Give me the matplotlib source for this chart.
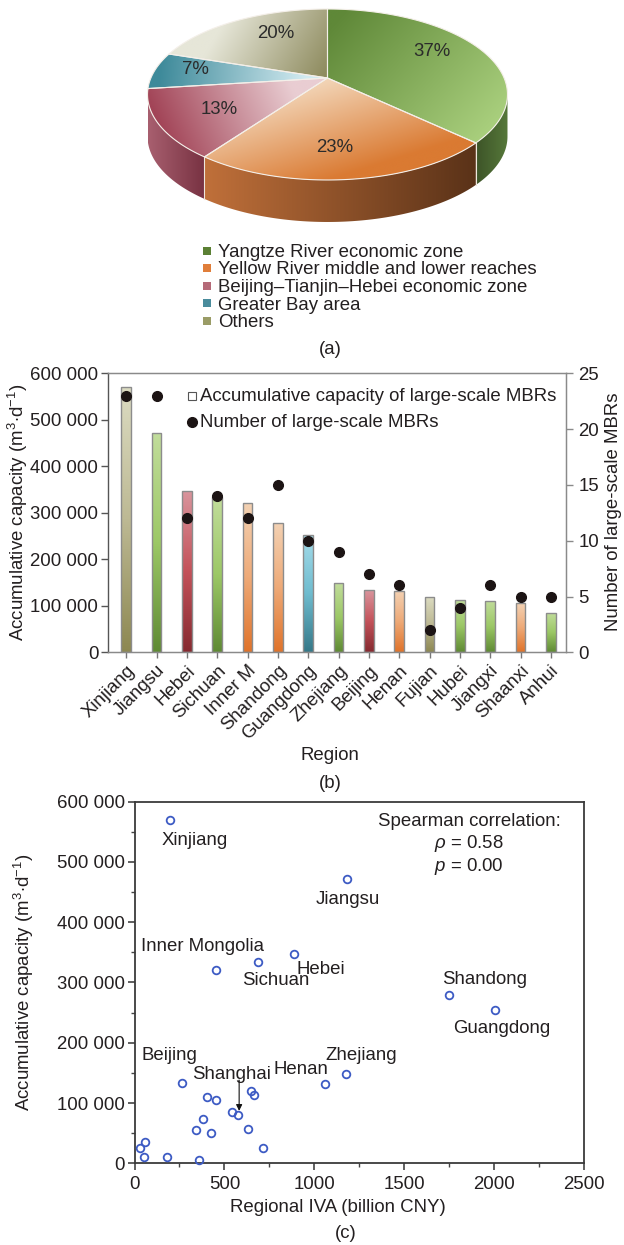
import numpy as np
import matplotlib
matplotlib.use("Agg")
import matplotlib.pyplot as plt
from matplotlib.patches import Polygon, Rectangle
from matplotlib.colors import to_rgb
from matplotlib.ticker import FuncFormatter, MultipleLocator

FS = 13.4
plt.rcParams['font.family'] = ['Liberation Sans', 'DejaVu Sans']
plt.rcParams['mathtext.fontset'] = 'custom'
plt.rcParams['mathtext.rm'] = 'Liberation Sans'
plt.rcParams['mathtext.it'] = 'Liberation Sans:italic'
plt.rcParams['mathtext.bf'] = 'Liberation Sans:bold'
plt.rcParams['font.size'] = FS
TXT = '#231f20'
plt.rcParams['text.color'] = TXT
plt.rcParams['axes.labelcolor'] = TXT
plt.rcParams['xtick.color'] = TXT
plt.rcParams['ytick.color'] = TXT

# ---------------- data ----------------
zones = ["Yangtze River economic zone",
         "Yellow River middle and lower reaches",
         "Beijing\u2013Tianjin\u2013Hebei economic zone",
         "Greater Bay area",
         "Others"]
zone_share = [37, 23, 13, 7, 20]

regions = ["Xinjiang", "Jiangsu", "Hebei", "Sichuan", "Inner M", "Shandong",
           "Guangdong", "Zhejiang", "Beijing", "Henan", "Fujian", "Hubei",
           "Jiangxi", "Shaanxi", "Anhui"]
region_zone = [4, 0, 2, 0, 1, 1, 3, 0, 2, 1, 4, 0, 0, 1, 0]
capacity = [570000, 472000, 347000, 335000, 321000, 278000, 253000, 148000,
            133000, 132000, 120000, 113000, 110000, 105000, 85000]
mbr_count = [23, 23, 12, 14, 12, 15, 10, 9, 7, 6, 2, 4, 6, 5, 5]

iva = [199, 1184, 456, 688, 889, 1748, 2005, 262, 1062, 1178,
       406, 454, 646, 666, 545, 577, 383, 340, 426, 629,
       714, 61, 32, 54, 180, 361]
cap_all = [568500, 471500, 321000, 334500, 347000, 278500, 253500, 132600, 132000, 148600,
           110000, 105000, 120400, 112700, 85000, 80700, 73500, 54700, 49700, 56900,
           24900, 35900, 26000, 10500, 10000, 5000]
point_names = ["Xinjiang", "Jiangsu", "Inner Mongolia", "Sichuan", "Hebei", "Shandong",
               "Guangdong", "Beijing", "Henan", "Zhejiang"]
spearman_rho = 0.58
spearman_p = 0.00

# ---------------- styles ----------------
legend_colors = ['#5b8034', '#e07e3a', '#b56a78', '#4a8c9c', '#9a9c66']
top_grad = [((340, 15), (480, 140), '#5f8838', '#a9cf7d'),
            ((300, 85), (330, 180), '#f3d7ba', '#da7a32'),
            ((295, 95), (170, 150), '#e9cdd2', '#a24457'),
            ((305, 78), (160, 68), '#d2eaf0', '#3e8a9a'),
            ((225, 20), (325, 78), '#e6e6d8', '#8d8a5d')]
wall_grad = [('#56783a', '#3d5428'), ('#5a3218', '#c0703a'), ('#783242', '#a85f6f'),
             ('#3e7a88', '#3e7a88'), ('#8d8a5d', '#8d8a5d')]
bar_grad = [('#c2dd9c', '#9cc866', '#5f8a34'),
            ('#f3d2b4', '#eeaa78', '#e0732a'),
            ('#d9959d', '#c4525a', '#862a30'),
            ('#a6dcea', '#6fbccf', '#357888'),
            ('#dcdcc2', '#bdb994', '#8d8852')]
pct_pos = [(432, 52), (335, 147), (219, 110), (195, 70), (276, 33)]
label_pos = {"Xinjiang": (333, 535400), "Jiangsu": (1187, 438300),
             "Inner Mongolia": (378, 360200), "Sichuan": (783, 303300),
             "Hebei": (1039, 321000), "Shandong": (1946, 305300),
             "Guangdong": (2043, 224300), "Beijing": (196, 179600),
             "Henan": (926, 156000), "Zhejiang": (1263, 179600)}

W, H = 624, 1245
fig = plt.figure(figsize=(W / 100, H / 100), dpi=100)
bg = fig.add_axes([0, 0, 1, 1], zorder=0)
bg.set_axis_off()

def fy(y):
    return 1 - y / H

# ---------------- (a) 3D pie ----------------
CX, CY, A, B, P, DEPTH = 327.5, 78.0, 176.6, 82.3, 0.193, 42.0

def proj(th):
    t = np.radians(th)
    u = np.sin(t)
    v = -np.cos(t)
    den = 1 - P * v
    return CX + A * u / den, CY + B * v / den

def grad_fill(ax, poly_xy, p0, p1, c0, c1, zorder):
    patch = Polygon(poly_xy, closed=True, facecolor='none', edgecolor='none')
    ax.add_patch(patch)
    xs_, ys_ = poly_xy[:, 0], poly_xy[:, 1]
    x0, x1, y0, y1 = xs_.min(), xs_.max(), ys_.min(), ys_.max()
    nx, ny = max(int(x1 - x0) * 2, 2), max(int(y1 - y0) * 2, 2)
    X, Y = np.meshgrid(np.linspace(x0, x1, nx), np.linspace(y0, y1, ny))
    d = np.array(p1, float) - np.array(p0, float)
    t = ((X - p0[0]) * d[0] + (Y - p0[1]) * d[1]) / (d @ d)
    t = np.clip(t, 0, 1)[..., None]
    img = np.array(to_rgb(c0)) * (1 - t) + np.array(to_rgb(c1)) * t
    im = ax.imshow(img, extent=(x0, x1, y1, y0), origin='upper', aspect='auto',
                   zorder=zorder, interpolation='bilinear')
    im.set_clip_path(patch)

bounds = np.cumsum([0] + zone_share) * 3.6
thR = np.degrees(np.arccos(-P))
thL = 360 - thR

# walls
for i in range(len(zone_share)):
    s, e = max(bounds[i], thR), min(bounds[i + 1], thL)
    if e <= s:
        continue
    ths = np.linspace(s, e, 200)
    top = np.array([proj(t) for t in ths])
    bot = top[::-1] + np.array([0, DEPTH])
    poly = np.vstack([top, bot])
    xs_s, ys_s = proj(s)
    xs_e, _ = proj(e)
    grad_fill(bg, poly, (xs_s, ys_s), (xs_e, ys_s), wall_grad[i][0], wall_grad[i][1], 1)
for th in bounds[1:-1]:
    if thR < th < thL:
        x, y = proj(th)
        bg.plot([x, x], [y, y + DEPTH], color='#eee6dc', lw=0.8, zorder=1.5)

# top faces
for i in range(len(zone_share)):
    ths = np.linspace(bounds[i], bounds[i + 1], 120)
    pts = [proj(t) for t in ths]
    poly = np.array([(CX, CY)] + pts)
    p0, p1, c0, c1 = top_grad[i]
    grad_fill(bg, poly, p0, p1, c0, c1, 2)
    bg.add_patch(Polygon(poly, closed=True, facecolor='none', edgecolor='#f4efe9',
                         lw=0.8, zorder=2.5))
    bg.text(pct_pos[i][0], pct_pos[i][1], f"{zone_share[i]}%", ha='center', va='center',
            fontsize=FS, color='#2b2b2b', zorder=3)

# pie legend
leg_base = [257, 274.5, 292, 309.5, 327]
for i, name in enumerate(zones):
    yb = leg_base[i]
    bg.add_patch(Rectangle((203, yb - 10.5), 8, 8, facecolor=legend_colors[i],
                           edgecolor='none', zorder=3))
    bg.text(218, yb, name, ha='left', va='baseline', fontsize=FS, zorder=3)

bg.set_xlim(0, W)
bg.set_ylim(H, 0)

fig.text(330 / W, fy(350), "(a)", ha='center', va='center', fontsize=FS)

# ---------------- (b) bar chart ----------------
L1, R1, T1, B1 = 108, 566, 373.3, 652.3
ax1 = fig.add_axes([L1 / W, fy(B1), (R1 - L1) / W, (B1 - T1) / H], zorder=2)
bw = 0.31
xs = np.arange(len(regions))
for i, (c, z) in enumerate(zip(capacity, region_zone)):
    top, mid, bot = [np.array(to_rgb(cc)) for cc in bar_grad[z]]
    t = np.linspace(0, 1, 200)[:, None]  # 0 = top, 1 = bottom
    cols = np.where(t < 0.5, top * (1 - t / 0.5) + mid * (t / 0.5),
                    mid * (1 - (t - 0.5) / 0.5) + bot * ((t - 0.5) / 0.5))
    img = cols[:, None, :]
    rect = Rectangle((i - bw / 2, 0), bw, c, facecolor='none', edgecolor='#8c8c8c',
                     lw=1.0, zorder=3)
    ax1.add_patch(rect)
    im = ax1.imshow(img, extent=(i - bw / 2, i + bw / 2, 0, c), origin='upper',
                    aspect='auto', zorder=2, interpolation='bilinear')
    im.set_clip_path(rect)
ax1.set_xlim(-0.6, 14.5)
ax1.set_ylim(0, 600000)
fmt = FuncFormatter(lambda v, p: f"{int(round(v)):,}".replace(",", " "))
ax1.yaxis.set_major_locator(MultipleLocator(100000))
ax1.yaxis.set_major_formatter(fmt)
ax1.set_xticks(xs)
ax1.set_xticklabels(regions, rotation=45, ha='right', va='top', rotation_mode='anchor')
ax1.tick_params(axis='x', length=4, width=1, color='#777777', pad=3)
ax1.tick_params(axis='y', length=5, width=1, color='#555555', pad=2)
for sp in ['top', 'right', 'bottom']:
    ax1.spines[sp].set_color('#8a8a8a')
ax1.spines['left'].set_color('#555555')
for sp in ax1.spines.values():
    sp.set_linewidth(1.0)

ax2 = ax1.twinx()
ax2.plot(xs, mbr_count, 'o', color='#1c1414', ms=7, zorder=5)
ax2.set_ylim(0, 25)
ax2.yaxis.set_major_locator(MultipleLocator(5))
ax2.tick_params(axis='y', length=5, width=1, color='#8a8a8a', pad=4)
for sp in ax2.spines.values():
    sp.set_color('#8a8a8a')
ax2.spines['left'].set_visible(False)

# manual legend
ax2.plot([0.1827], [0.9186], 's', transform=ax2.transAxes, ms=6, mfc='white',
         mec='#555555', mew=0.8, clip_on=False)
ax2.plot([0.1827], [0.8254], 'o', transform=ax2.transAxes, ms=7, color='#1c1414',
         clip_on=False)
ax2.text(0.2009, 0.9186, "Accumulative capacity of large-scale MBRs", transform=ax2.transAxes,
         ha='left', va='center', fontsize=FS)
ax2.text(0.2009, 0.8254, "Number of large-scale MBRs", transform=ax2.transAxes,
         ha='left', va='center', fontsize=FS)

fig.text(18 / W, fy(512), r"Accumulative capacity (m$^{3}$$\cdot$d$^{-1}$)", rotation=90,
         ha='center', va='center', fontsize=FS)
fig.text(613 / W, fy(512), "Number of large-scale MBRs", rotation=90,
         ha='center', va='center', fontsize=FS)
fig.text(330 / W, fy(756), "Region", ha='center', va='center', fontsize=FS)
fig.text(330 / W, fy(783), "(b)", ha='center', va='center', fontsize=FS)

# ---------------- (c) scatter ----------------
L3, R3, T3, B3 = 134.5, 584, 801.5, 1163.3
ax3 = fig.add_axes([L3 / W, fy(B3), (R3 - L3) / W, (B3 - T3) / H], zorder=2)
ax3.plot(iva, cap_all, 'o', ms=5.5, mfc='none', mec='#3d5bc4', mew=1.3, ls='none',
         clip_on=False, zorder=3)
ax3.set_xlim(0, 2500)
ax3.set_ylim(0, 600000)
ax3.xaxis.set_major_locator(MultipleLocator(500))
ax3.xaxis.set_minor_locator(MultipleLocator(250))
ax3.yaxis.set_major_locator(MultipleLocator(100000))
ax3.yaxis.set_minor_locator(MultipleLocator(50000))
ax3.yaxis.set_major_formatter(fmt)
ax3.tick_params(which='major', length=5, width=1.2, color='#444444', pad=2)
ax3.tick_params(which='minor', length=3, width=1.0, color='#444444')
ax3.tick_params(axis='x', pad=4)
for sp in ax3.spines.values():
    sp.set_color('#3a3a3a')
    sp.set_linewidth(1.3)

for name in point_names:
    lx, ly = label_pos[name]
    ax3.text(lx, ly, name, ha='center', va='center', fontsize=FS)
ax3.text(540, 148000, "Shanghai", ha='center', va='center', fontsize=FS)
ax3.annotate('', xy=(582, 87000), xytext=(582, 138000),
             arrowprops=dict(arrowstyle='-|>', color='#111111', lw=0.8, mutation_scale=9,
                             shrinkA=0, shrinkB=0))
ax3.text(1861, 567400, "Spearman correlation:", ha='center', va='center', fontsize=FS)
ax3.text(1861, 530000, r"$\rho$ = " + f"{spearman_rho:.2f}", ha='center', va='center', fontsize=FS)
ax3.text(1861, 492000, r"$p$ = " + f"{spearman_p:.2f}", ha='center', va='center', fontsize=FS)

fig.text(24 / W, fy(982), r"Accumulative capacity (m$^{3}$$\cdot$d$^{-1}$)", rotation=90,
         ha='center', va='center', fontsize=FS)
fig.text(338 / W, fy(1207), "Regional IVA (billion CNY)", ha='center', va='center', fontsize=FS)
fig.text(346 / W, fy(1233), "(c)", ha='center', va='center', fontsize=FS)

fig.savefig("out.png", dpi=100)
